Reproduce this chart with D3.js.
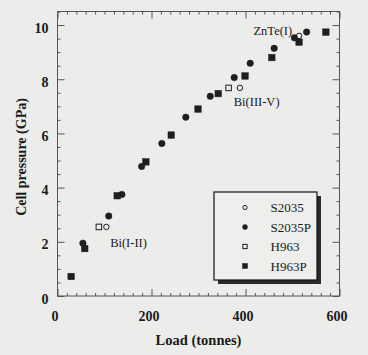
<!DOCTYPE html>
<html>
<head>
<meta charset="utf-8">
<script src="https://cdn.jsdelivr.net/npm/d3@7"></script>
<style>
  html, body { margin: 0; padding: 0; background: #ececea; }
  svg { display: block; }
  text { font-family: "Liberation Serif", "Times New Roman", serif; fill: #1a1a1a; }
</style>
</head>
<body>
<svg id="chart" width="368" height="355"></svg>
<script>
// ---- data ----
const s2035Load = [104, 388, 514];
const s2035Pressure = [2.55, 7.68, 9.6];
const s2035pLoad = [54, 109, 137, 179, 222, 273, 325, 376, 410, 461, 504, 530];
const s2035pPressure = [1.95, 2.95, 3.75, 4.78, 5.63, 6.6, 7.37, 8.06, 8.59, 9.14, 9.53, 9.74];
const h963Load = [88, 364];
const h963Pressure = [2.55, 7.68];
const h963pLoad = [29, 58, 127, 188, 242, 299, 342, 399, 456, 514, 571];
const h963pPressure = [0.72, 1.75, 3.7, 4.95, 5.94, 6.9, 7.47, 8.12, 8.8, 9.37, 9.74];
const seriesNames = ["S2035", "S2035P", "H963", "H963P"];
const xTickValues = [0, 200, 400, 600];
const yTickValues = [0, 2, 4, 6, 8, 10];
const annotationText = ["ZnTe(I)", "Bi(III-V)", "Bi(I-II)"];
const annotationLoad = [417, 375, 112];
const annotationPressure = [9.62, 7.0, 1.81];

const series = [
  { name: seriesNames[0], shape: "circle", filled: false, xs: s2035Load, ys: s2035Pressure },
  { name: seriesNames[1], shape: "circle", filled: true,  xs: s2035pLoad, ys: s2035pPressure },
  { name: seriesNames[2], shape: "square", filled: false, xs: h963Load, ys: h963Pressure },
  { name: seriesNames[3], shape: "square", filled: true,  xs: h963pLoad, ys: h963pPressure }
];

const svg = d3.select("#chart");
const W = 368, H = 355;
const L = 57.5, R = 339.5, T = 11.5, B = 296;
svg.append("rect").attr("width", W).attr("height", H).attr("fill", "#ececea");

const x = d3.scaleLinear().domain([0, 600]).range([L, R]);
const y = d3.scaleLinear().domain([0, 10.5]).range([B, T]);

const axisColor = "#555";
// frame
svg.append("rect").attr("x", L).attr("y", T).attr("width", R - L).attr("height", B - T)
  .attr("fill", "none").attr("stroke", axisColor).attr("stroke-width", 1);

function styleAxis(g) {
  g.select(".domain").remove();
  g.selectAll(".tick line").attr("stroke", axisColor).attr("stroke-width", 1);
}
const xMinor = d3.range(0, 601, 20).filter(v => v % 200 !== 0);
const yMinor = d3.range(0, 10.51, 0.5).filter(v => Math.abs(v % 2) > 1e-6);

// bottom axis (ticks inward)
svg.append("g").attr("transform", `translate(0,${B})`)
  .call(d3.axisBottom(x).tickValues(xMinor).tickSize(-3).tickFormat(""))
  .call(styleAxis);
const gxb = svg.append("g").attr("transform", `translate(0,${B})`)
  .call(d3.axisBottom(x).tickValues(xTickValues).tickSize(-7).tickPadding(15).tickFormat(d3.format("d")))
  .call(styleAxis);
gxb.selectAll(".tick text").attr("font-size", 14).attr("font-weight", "bold")
  .attr("font-family", "Liberation Serif, serif").attr("fill", "#1a1a1a").attr("dx", -3);
// top axis
svg.append("g").attr("transform", `translate(0,${T})`)
  .call(d3.axisTop(x).tickValues(xMinor).tickSize(-3).tickFormat("")).call(styleAxis);
svg.append("g").attr("transform", `translate(0,${T})`)
  .call(d3.axisTop(x).tickValues(xTickValues).tickSize(-7).tickFormat("")).call(styleAxis);
// left axis
svg.append("g").attr("transform", `translate(${L},0)`)
  .call(d3.axisLeft(y).tickValues(yMinor).tickSize(-3).tickFormat("")).call(styleAxis);
const gyl = svg.append("g").attr("transform", `translate(${L},0)`)
  .call(d3.axisLeft(y).tickValues(yTickValues).tickSize(-7).tickPadding(9).tickFormat(d3.format("d")))
  .call(styleAxis);
gyl.selectAll(".tick text").attr("font-size", 14).attr("font-weight", "bold")
  .attr("font-family", "Liberation Serif, serif").attr("fill", "#1a1a1a").attr("dy", "0.5em");
// right axis
svg.append("g").attr("transform", `translate(${R},0)`)
  .call(d3.axisRight(y).tickValues(yMinor).tickSize(-3).tickFormat("")).call(styleAxis);
svg.append("g").attr("transform", `translate(${R},0)`)
  .call(d3.axisRight(y).tickValues(yTickValues).tickSize(-7).tickFormat("")).call(styleAxis);

// axis titles
svg.append("text").attr("x", (L + R) / 2).attr("y", 345).attr("text-anchor", "middle")
  .attr("font-size", 14.5).attr("font-weight", "bold").text("Load (tonnes)");
svg.append("text").attr("transform", `translate(26,${157}) rotate(-90)`).attr("text-anchor", "middle")
  .attr("font-size", 14).attr("font-weight", "bold").text("Cell pressure (GPa)");

// markers
const markColor = "#1e1e1e";
function drawMarker(g, shape, filled, cx, cy, size) {
  if (shape === "circle") {
    const r = filled ? size * 0.5 : size * 0.42;
    g.append("circle").attr("cx", cx).attr("cy", cy).attr("r", r)
      .attr("fill", filled ? markColor : "none").attr("stroke", markColor).attr("stroke-width", filled ? 0.5 : 1);
  } else {
    const s = filled ? size : size * 0.85;
    g.append("rect").attr("x", cx - s / 2).attr("y", cy - s / 2).attr("width", s).attr("height", s)
      .attr("fill", filled ? markColor : "none").attr("stroke", markColor).attr("stroke-width", filled ? 0.5 : 1);
  }
}
const gm = svg.append("g");
series.forEach(s => {
  s.xs.forEach((lx, i) => drawMarker(gm, s.shape, s.filled, x(lx), y(s.ys[i]), 6.5));
});

// annotations
annotationText.forEach((t, i) => {
  svg.append("text").attr("x", x(annotationLoad[i])).attr("y", y(annotationPressure[i]))
    .attr("font-size", 12.5).text(t);
});

// legend
const lg = svg.append("g");
const bx = 214, by = 192, bw = 103, bh = 88;
lg.append("rect").attr("x", bx + 4).attr("y", by + 4).attr("width", bw).attr("height", bh).attr("fill", "#2a2a2a");
lg.append("rect").attr("x", bx).attr("y", by).attr("width", bw).attr("height", bh)
  .attr("fill", "#eeeeec").attr("stroke", "#111").attr("stroke-width", 1.2);
series.forEach((s, i) => {
  const yy = 207.5 + i * 19.5;
  drawMarker(lg, s.shape, s.filled, 245, yy, 5);
  lg.append("text").attr("x", 270.5).attr("y", yy + 4.5).attr("font-size", 13).text(s.name);
});
</script>
</body>
</html>
